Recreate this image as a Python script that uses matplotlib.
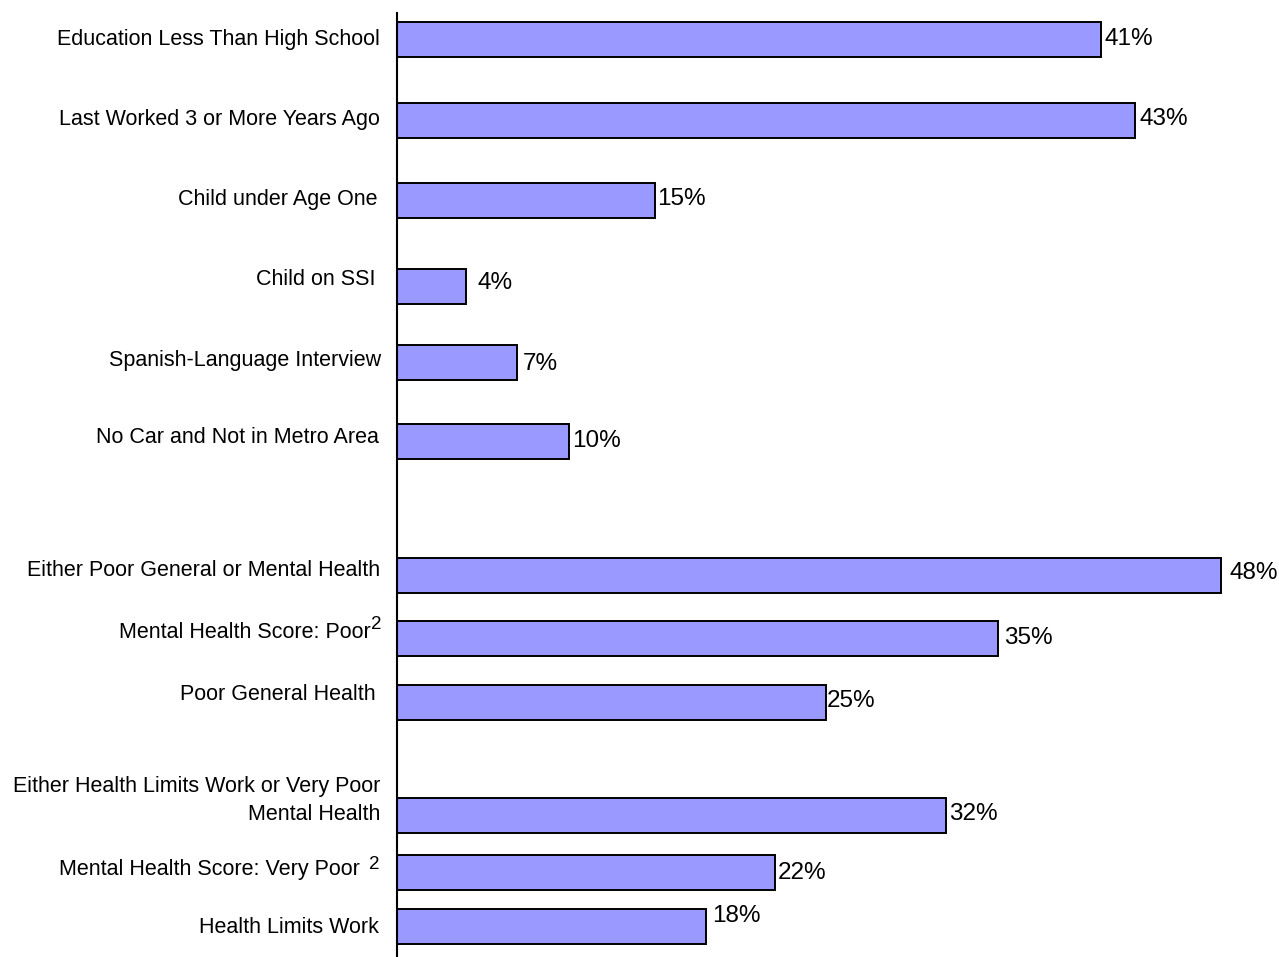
import matplotlib
matplotlib.use("Agg")
import matplotlib.pyplot as plt

plt.rcParams['font.family'] = ['Liberation Sans', 'DejaVu Sans']

categories = [
    "Education Less Than High School",
    "Last Worked 3 or More Years Ago",
    "Child under Age One",
    "Child on SSI",
    "Spanish-Language Interview",
    "No Car and Not in Metro Area",
    "Either Poor General or Mental Health",
    "Mental Health Score: Poor",
    "Poor General Health",
    "Either Health Limits Work or Very Poor\nMental Health",
    "Mental Health Score: Very Poor",
    "Health Limits Work",
]
footnote_marks = ["", "", "", "", "", "", "", "2", "", "", "2", ""]
values = [41, 43, 15, 4, 7, 10, 48, 35, 25, 32, 22, 18]
value_labels = ["41%", "43%", "15%", "4%", "7%", "10%", "48%", "35%", "25%", "32%", "22%", "18%"]

# ---- layout (pixels) ----
W, H = 1279, 957
AXIS_X = 397
TOP = 13
row_pos = [39, 120, 200, 286, 362, 441, 575, 638, 702, 815, 872, 926]      # bar centres
label_base_dy = [6, 5, 5, -1, 4, 2, 1, 0, -2, 5, 3, 7]                     # label baseline offset
label_right = [380, 380, 377, 376, 381, 379, 380, 371, 376, 380, 360, 379]  # label right edge
sup_right = [None] * 7 + [382, None, None, 380, None]
sup_base_dy = [None] * 7 + [-9, None, None, -6, None]
val_base_dy = [6, 5, 5, 3, 8, 6, 4, 6, 5, 5, 7, -4]
val_gap = [4, 4, 3, 12, 6, 3, 8, 6, 1, 3, 3, 6]

fig = plt.figure(figsize=(W / 100, H / 100), dpi=100)
left = AXIS_X / W
ax = fig.add_axes([left, 0, 1 - left, 1 - TOP / H])

px_per_pct = 17.17
ax.set_xlim(0, (W - AXIS_X) / px_per_pct)
ax.set_ylim(H, TOP)   # 1 data unit = 1 pixel vertically

ax.barh(row_pos, values, height=35, color="#9999FF", edgecolor="black",
        linewidth=1.4, zorder=2)

# value labels
for y, v, lab, dy, gap in zip(row_pos, values, value_labels, val_base_dy, val_gap):
    ax.annotate(lab, xy=(v, y + dy), xycoords="data",
                xytext=(gap, 0), textcoords="offset pixels",
                va="baseline", ha="left", fontsize=17.5, color="black",
                annotation_clip=False)

# category labels
for y, lab, dy, xr, fm, sr, sdy in zip(row_pos, categories, label_base_dy, label_right,
                                       footnote_marks, sup_right, sup_base_dy):
    ax.annotate(lab, xy=(0, y + dy), xycoords="data",
                xytext=(xr - AXIS_X, 0), textcoords="offset pixels",
                va="baseline", ha="right", fontsize=15.5, color="black",
                linespacing=1.45, multialignment="right", annotation_clip=False)
    if fm:
        ax.annotate(fm, xy=(0, y + dy + sdy), xycoords="data",
                    xytext=(sr - AXIS_X, 0), textcoords="offset pixels",
                    va="baseline", ha="right", fontsize=13.5, color="black",
                    annotation_clip=False)

ax.set_yticks([])
ax.set_xticks([])
for s in ["top", "right", "bottom"]:
    ax.spines[s].set_visible(False)
ax.spines["left"].set_linewidth(1.5)
ax.patch.set_alpha(0)

fig.savefig("out.png", dpi=100)
